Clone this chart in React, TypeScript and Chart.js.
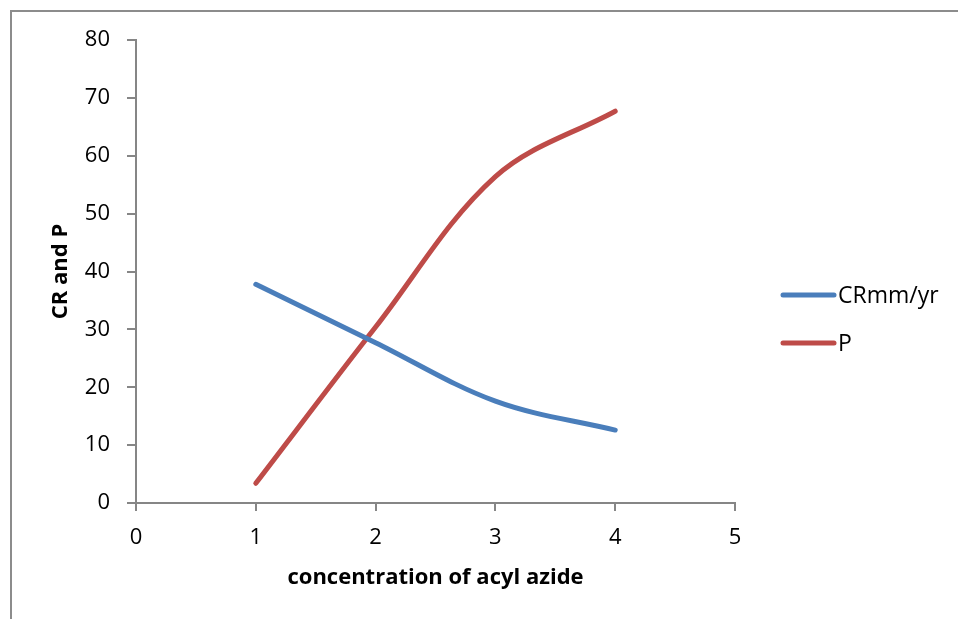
import React, { useEffect, useRef } from "react";
import { Chart, registerables } from "chart.js";

Chart.register(...registerables);

const xValues = [1, 2, 3, 4];
const crValues = [37.8, 27.7, 17.6, 12.6];
const pValues = [3.4, 30.4, 56.4, 67.7];
const seriesLabels = ["CRmm/yr", "P"];
const seriesColors = ["#4A7EBB", "#BE4B48"];
const xTitle = "concentration of acyl azide";
const yTitle = "CR and P";

const FONT = "'Open Sans', 'DejaVu Sans', sans-serif";
const AXIS_COLOR = "#868686";

const sideLegend = {
  id: "sideLegend",
  afterDraw(chart: any) {
    const { ctx, chartArea } = chart;
    const x0 = chartArea.right + 46;
    chart.data.datasets.forEach((ds: any, i: number) => {
      const y = chartArea.top + 255 + i * 48;
      ctx.save();
      ctx.strokeStyle = ds.borderColor;
      ctx.lineWidth = 5;
      ctx.lineCap = "round";
      ctx.beginPath();
      ctx.moveTo(x0 + 2, y);
      ctx.lineTo(x0 + 53, y);
      ctx.stroke();
      ctx.fillStyle = "#000";
      ctx.font = `23px ${FONT}`;
      ctx.textBaseline = "middle";
      ctx.textAlign = "left";
      ctx.fillText(ds.label, x0 + 57, y + 1);
      ctx.restore();
    });
  },
};

export default function App() {
  const canvasRef = useRef<HTMLCanvasElement | null>(null);

  useEffect(() => {
    const canvas = canvasRef.current;
    if (!canvas) return;
    const mk = (vals: number[]) => xValues.map((x, i) => ({ x, y: vals[i] }));
    const chart = new Chart(canvas, {
      type: "scatter",
      data: {
        datasets: [crValues, pValues].map((vals, i) => ({
          label: seriesLabels[i],
          data: mk(vals),
          showLine: true,
          borderColor: seriesColors[i],
          backgroundColor: seriesColors[i],
          borderWidth: 5,
          pointRadius: 0,
          pointHoverRadius: 0,
          tension: 0.35,
          borderCapStyle: "round",
          borderJoinStyle: "round",
          fill: false,
        })),
      },
      options: {
        animation: false,
        responsive: false,
        events: [],
        layout: { padding: { left: 48, top: 40, right: 223, bottom: 0 } },
        plugins: {
          legend: { display: false },
          tooltip: { enabled: false },
        },
        scales: {
          x: {
            type: "linear",
            min: 0,
            max: 5,
            ticks: {
              stepSize: 1,
              font: { family: FONT, size: 22 },
              color: "#000",
              padding: 14,
            },
            grid: {
              drawOnChartArea: false,
              drawTicks: true,
              tickLength: 8,
              color: AXIS_COLOR,
              lineWidth: 2,
            },
            border: { color: AXIS_COLOR, width: 2 },
            title: {
              display: true,
              text: xTitle,
              color: "#000",
              font: { family: FONT, size: 22, weight: "bold" },
              padding: { top: 0, bottom: 28 },
            },
            afterFit: (s: any) => {
              s.height = 116;
            },
          },
          y: {
            type: "linear",
            min: 0,
            max: 80,
            ticks: {
              stepSize: 10,
              font: { family: FONT, size: 22 },
              color: "#000",
              padding: 17,
            },
            grid: {
              drawOnChartArea: false,
              drawTicks: true,
              tickLength: 9,
              color: AXIS_COLOR,
              lineWidth: 2,
            },
            border: { color: AXIS_COLOR, width: 2 },
            title: {
              display: true,
              text: yTitle,
              color: "#000",
              font: { family: FONT, size: 22, weight: "bold" },
              padding: { top: 0, bottom: 0 },
            },
            afterFit: (s: any) => {
              s.width = 88;
            },
          },
        },
      },
      plugins: [sideLegend],
    } as any);
    return () => chart.destroy();
  }, []);

  return (
    <div style={{ position: "fixed", left: 0, top: 0, width: 958, height: 619, background: "#fff" }}>
      <div
        style={{
          position: "absolute",
          left: 10,
          top: 10,
          width: 2000,
          height: 2000,
          borderLeft: "2px solid #8c8c8c",
          borderTop: "2px solid #8c8c8c",
        }}
      />
      <canvas
        ref={canvasRef}
        width={958}
        height={619}
        style={{ position: "absolute", left: 0, top: 0, display: "block" }}
      />
    </div>
  );
}
